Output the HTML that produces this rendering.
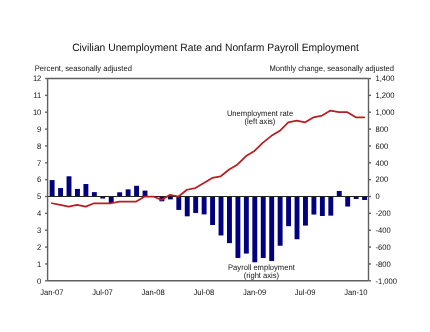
<!DOCTYPE html>
<html><head><meta charset="utf-8"><style>
html,body{margin:0;padding:0;background:#fff;width:430px;height:332px;overflow:hidden;font-family:"Liberation Sans", sans-serif;}
svg{display:block;will-change:transform;text-rendering:geometricPrecision;}
</style></head><body>
<svg width="430" height="332" viewBox="0 0 430 332">
<rect width="430" height="332" fill="#fff"/>
<rect x="49.67" y="180.07" width="4.9" height="16.44" fill="#000080"/>
<rect x="58.12" y="188.08" width="4.9" height="8.43" fill="#000080"/>
<rect x="66.56" y="176.28" width="4.9" height="20.23" fill="#000080"/>
<rect x="75.01" y="188.92" width="4.9" height="7.59" fill="#000080"/>
<rect x="83.45" y="184.03" width="4.9" height="12.48" fill="#000080"/>
<rect x="91.90" y="192.13" width="4.9" height="4.38" fill="#000080"/>
<rect x="100.34" y="196.51" width="4.9" height="2.02" fill="#000080"/>
<rect x="108.79" y="196.51" width="4.9" height="6.66" fill="#000080"/>
<rect x="117.23" y="192.29" width="4.9" height="4.21" fill="#000080"/>
<rect x="125.67" y="189.34" width="4.9" height="7.16" fill="#000080"/>
<rect x="134.12" y="185.80" width="4.9" height="10.71" fill="#000080"/>
<rect x="142.56" y="190.61" width="4.9" height="5.90" fill="#000080"/>
<rect x="151.01" y="196.51" width="4.9" height="0.00" fill="#000080"/>
<rect x="159.45" y="196.51" width="4.9" height="4.80" fill="#000080"/>
<rect x="167.90" y="196.51" width="4.9" height="2.87" fill="#000080"/>
<rect x="176.34" y="196.51" width="4.9" height="13.40" fill="#000080"/>
<rect x="184.79" y="196.51" width="4.9" height="19.81" fill="#000080"/>
<rect x="193.23" y="196.51" width="4.9" height="16.44" fill="#000080"/>
<rect x="201.68" y="196.51" width="4.9" height="17.87" fill="#000080"/>
<rect x="210.12" y="196.51" width="4.9" height="28.49" fill="#000080"/>
<rect x="218.57" y="196.51" width="4.9" height="38.94" fill="#000080"/>
<rect x="227.01" y="196.51" width="4.9" height="46.61" fill="#000080"/>
<rect x="235.46" y="196.51" width="4.9" height="61.45" fill="#000080"/>
<rect x="243.90" y="196.51" width="4.9" height="57.07" fill="#000080"/>
<rect x="252.35" y="196.51" width="4.9" height="65.75" fill="#000080"/>
<rect x="260.79" y="196.51" width="4.9" height="61.45" fill="#000080"/>
<rect x="269.24" y="196.51" width="4.9" height="64.48" fill="#000080"/>
<rect x="277.68" y="196.51" width="4.9" height="49.23" fill="#000080"/>
<rect x="286.12" y="196.51" width="4.9" height="29.67" fill="#000080"/>
<rect x="294.57" y="196.51" width="4.9" height="42.74" fill="#000080"/>
<rect x="303.01" y="196.51" width="4.9" height="29.08" fill="#000080"/>
<rect x="311.46" y="196.51" width="4.9" height="18.04" fill="#000080"/>
<rect x="319.90" y="196.51" width="4.9" height="19.47" fill="#000080"/>
<rect x="328.35" y="196.51" width="4.9" height="19.13" fill="#000080"/>
<rect x="336.79" y="190.95" width="4.9" height="5.56" fill="#000080"/>
<rect x="345.24" y="196.51" width="4.9" height="10.03" fill="#000080"/>
<rect x="353.68" y="196.51" width="4.9" height="2.44" fill="#000080"/>
<rect x="362.13" y="196.51" width="4.9" height="3.46" fill="#000080"/>
<line x1="45.60" y1="196.51" x2="370.50" y2="196.51" stroke="#222" stroke-width="1"/>
<polyline points="51.82,203.25 60.27,204.94 68.71,206.62 77.16,204.94 85.60,206.62 94.05,203.25 102.49,203.25 110.94,203.25 119.38,201.57 127.82,201.57 136.27,201.57 144.71,196.51 153.16,196.51 161.60,199.88 170.05,194.82 178.49,196.51 186.94,189.76 195.38,188.08 203.83,183.02 212.27,177.96 220.72,176.28 229.16,169.54 237.61,164.48 246.05,156.05 254.50,150.99 262.94,142.56 271.39,135.82 279.83,130.76 288.27,122.33 296.72,120.65 305.16,122.33 313.61,117.27 322.05,115.59 330.50,110.53 338.94,112.22 347.39,112.22 355.83,117.27 364.28,117.27" fill="none" stroke="#b81e22" stroke-width="1.75" stroke-linejoin="round" stroke-linecap="round"/>
<g stroke="#606060" stroke-width="1.4"><line x1="47.60" y1="78.50" x2="47.60" y2="280.80"/><line x1="368.50" y1="78.50" x2="368.50" y2="280.80"/><line x1="47.60" y1="78.50" x2="368.50" y2="78.50"/><line x1="47.60" y1="280.80" x2="368.50" y2="280.80"/><line x1="45.10" y1="280.80" x2="47.60" y2="280.80"/><line x1="368.50" y1="280.80" x2="371.00" y2="280.80"/><line x1="45.10" y1="263.94" x2="47.60" y2="263.94"/><line x1="368.50" y1="263.94" x2="371.00" y2="263.94"/><line x1="45.10" y1="247.08" x2="47.60" y2="247.08"/><line x1="368.50" y1="247.08" x2="371.00" y2="247.08"/><line x1="45.10" y1="230.23" x2="47.60" y2="230.23"/><line x1="368.50" y1="230.23" x2="371.00" y2="230.23"/><line x1="45.10" y1="213.37" x2="47.60" y2="213.37"/><line x1="368.50" y1="213.37" x2="371.00" y2="213.37"/><line x1="45.10" y1="196.51" x2="47.60" y2="196.51"/><line x1="368.50" y1="196.51" x2="371.00" y2="196.51"/><line x1="45.10" y1="179.65" x2="47.60" y2="179.65"/><line x1="368.50" y1="179.65" x2="371.00" y2="179.65"/><line x1="45.10" y1="162.79" x2="47.60" y2="162.79"/><line x1="368.50" y1="162.79" x2="371.00" y2="162.79"/><line x1="45.10" y1="145.93" x2="47.60" y2="145.93"/><line x1="368.50" y1="145.93" x2="371.00" y2="145.93"/><line x1="45.10" y1="129.07" x2="47.60" y2="129.07"/><line x1="368.50" y1="129.07" x2="371.00" y2="129.07"/><line x1="45.10" y1="112.22" x2="47.60" y2="112.22"/><line x1="368.50" y1="112.22" x2="371.00" y2="112.22"/><line x1="45.10" y1="95.36" x2="47.60" y2="95.36"/><line x1="368.50" y1="95.36" x2="371.00" y2="95.36"/><line x1="45.10" y1="78.50" x2="47.60" y2="78.50"/><line x1="368.50" y1="78.50" x2="371.00" y2="78.50"/></g>
<g font-family='"Liberation Sans", sans-serif' font-size="7.6" fill="#111"><text transform="translate(41.35,283.60) scale(1,1.06)" text-anchor="end">0</text><text transform="translate(375.5,283.60) scale(1,1.06)">-1,000</text><text transform="translate(41.35,266.74) scale(1,1.06)" text-anchor="end">1</text><text transform="translate(375.5,266.74) scale(1,1.06)">-800</text><text transform="translate(41.35,249.88) scale(1,1.06)" text-anchor="end">2</text><text transform="translate(375.5,249.88) scale(1,1.06)">-600</text><text transform="translate(41.35,233.03) scale(1,1.06)" text-anchor="end">3</text><text transform="translate(375.5,233.03) scale(1,1.06)">-400</text><text transform="translate(41.35,216.17) scale(1,1.06)" text-anchor="end">4</text><text transform="translate(375.5,216.17) scale(1,1.06)">-200</text><text transform="translate(41.35,199.31) scale(1,1.06)" text-anchor="end">5</text><text transform="translate(375.5,199.31) scale(1,1.06)">0</text><text transform="translate(41.35,182.45) scale(1,1.06)" text-anchor="end">6</text><text transform="translate(375.5,182.45) scale(1,1.06)">200</text><text transform="translate(41.35,165.59) scale(1,1.06)" text-anchor="end">7</text><text transform="translate(375.5,165.59) scale(1,1.06)">400</text><text transform="translate(41.35,148.73) scale(1,1.06)" text-anchor="end">8</text><text transform="translate(375.5,148.73) scale(1,1.06)">600</text><text transform="translate(41.35,131.88) scale(1,1.06)" text-anchor="end">9</text><text transform="translate(375.5,131.88) scale(1,1.06)">800</text><text transform="translate(41.35,115.02) scale(1,1.06)" text-anchor="end">10</text><text transform="translate(375.5,115.02) scale(1,1.06)">1,000</text><text transform="translate(41.35,98.16) scale(1,1.06)" text-anchor="end">11</text><text transform="translate(375.5,98.16) scale(1,1.06)">1,200</text><text transform="translate(41.35,81.30) scale(1,1.06)" text-anchor="end">12</text><text transform="translate(375.5,81.30) scale(1,1.06)">1,400</text><text transform="translate(51.82,294.6) scale(1,1.06)" text-anchor="middle">Jan-07</text><text transform="translate(102.49,294.6) scale(1,1.06)" text-anchor="middle">Jul-07</text><text transform="translate(153.16,294.6) scale(1,1.06)" text-anchor="middle">Jan-08</text><text transform="translate(203.83,294.6) scale(1,1.06)" text-anchor="middle">Jul-08</text><text transform="translate(254.50,294.6) scale(1,1.06)" text-anchor="middle">Jan-09</text><text transform="translate(305.16,294.6) scale(1,1.06)" text-anchor="middle">Jul-09</text><text transform="translate(355.83,294.6) scale(1,1.06)" text-anchor="middle">Jan-10</text><text transform="translate(34.8,70.6) scale(1,1.06)">Percent, seasonally adjusted</text><text transform="translate(394,70.6) scale(1,1.06)" text-anchor="end">Monthly change, seasonally adjusted</text><text transform="translate(260,115.8) scale(1,1.06)" text-anchor="middle">Unemployment rate</text><text transform="translate(260,124.2) scale(1,1.06)" text-anchor="middle">(left axis)</text><text transform="translate(261.4,269.5) scale(1,1.06)" text-anchor="middle">Payroll employment</text><text transform="translate(261.4,278.3) scale(1,1.06)" text-anchor="middle">(right axis)</text></g>
<text transform="translate(215.5,50.6) scale(1,1.03)" text-anchor="middle" font-family='"Liberation Sans", sans-serif' font-size="10.3" fill="#111">Civilian Unemployment Rate and Nonfarm Payroll Employment</text>
</svg>
</body></html>
